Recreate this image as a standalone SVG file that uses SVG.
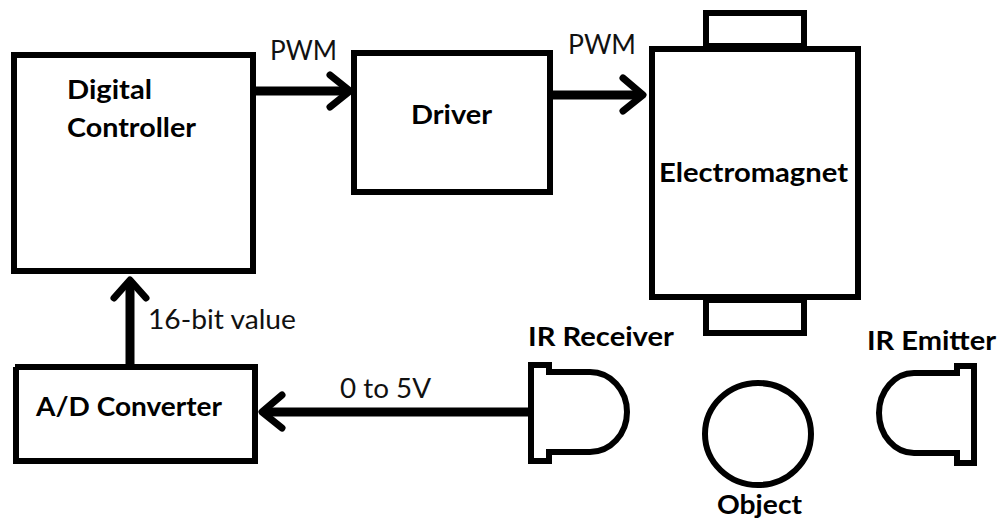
<svg xmlns="http://www.w3.org/2000/svg" width="998" height="520" viewBox="0 0 998 520">
<style>
.s{fill:none;stroke:#000;stroke-width:6;stroke-linejoin:miter}
.c{fill:none;stroke:#000;stroke-width:9}
.h{fill:none;stroke:#000;stroke-width:7;stroke-linecap:round;stroke-linejoin:round}
text{font-family:"Lato","Liberation Sans",sans-serif;font-size:27px;fill:#000}
.b{font-weight:700}
.n{fill:#111}
</style>
<rect width="998" height="520" fill="#fff"/>
<g id="connectors">
<path class="c" d="M256 91H348"/><path class="h" d="M330 75L350 91L330 107"/>
<path class="c" d="M553 95H641"/><path class="h" d="M623 78L643 95L623 111"/>
<path class="c" d="M130 364V283"/><path class="h" d="M114 298L130 280L146 298"/>
<path class="c" d="M528 412H264"/><path class="h" d="M282 395L262 412L282 428"/>
</g>
<g id="digital-controller"><rect class="s" x="14" y="55" width="239" height="216"/>
<text class="b" x="67" y="99" textLength="85" lengthAdjust="spacingAndGlyphs">Digital</text>
<text class="b" x="67" y="137" textLength="129" lengthAdjust="spacingAndGlyphs">Controller</text></g>
<g id="driver"><rect class="s" x="354" y="53" width="196" height="139"/>
<text class="b" x="411" y="124" textLength="81" lengthAdjust="spacingAndGlyphs">Driver</text></g>
<g id="electromagnet"><rect class="s" x="706" y="13" width="98" height="33"/><rect class="s" x="706" y="300" width="98" height="33"/><rect class="s" x="652" y="49" width="206" height="248"/>
<text class="b" x="659" y="182" textLength="189" lengthAdjust="spacingAndGlyphs">Electromagnet</text></g>
<g id="ad-converter"><path class="s" d="M15 367H258M16 367V461H255V367"/>
<text class="b" x="36" y="416" textLength="186" lengthAdjust="spacingAndGlyphs">A/D Converter</text></g>
<g id="ir-receiver"><path class="s" d="M549 365H531V461H549V452H590A37 40 0 0 0 590 372H549Z"/>
<text class="b" x="528" y="346" textLength="146" lengthAdjust="spacingAndGlyphs">IR Receiver</text></g>
<g id="ir-emitter"><path class="s" d="M957 366H974V463H957V453H914A35 40 0 0 1 914 373H957Z"/>
<text class="b" x="867" y="350" textLength="129" lengthAdjust="spacingAndGlyphs">IR Emitter</text></g>
<g id="object"><ellipse class="s" cx="758" cy="434" rx="53" ry="51"/>
<text class="b" x="717" y="514" style="font-size:26px" textLength="85" lengthAdjust="spacingAndGlyphs">Object</text></g>
<g id="labels">
<text class="n" x="270" y="60" textLength="67" lengthAdjust="spacingAndGlyphs">PWM</text>
<text class="n" x="568" y="54" textLength="68" lengthAdjust="spacingAndGlyphs">PWM</text>
<text class="n" x="148" y="329" textLength="148" lengthAdjust="spacingAndGlyphs">16-bit value</text>
<text class="n" x="340" y="398" textLength="91" lengthAdjust="spacingAndGlyphs">0 to 5V</text>
</g>
</svg>
